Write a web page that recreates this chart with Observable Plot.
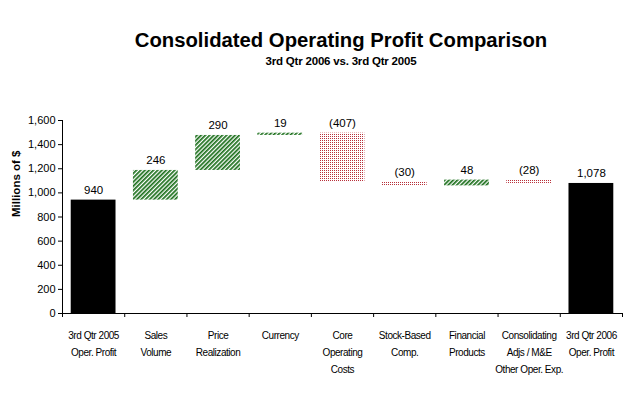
<!DOCTYPE html>
<html>
<head>
<meta charset="utf-8">
<script src="https://cdn.jsdelivr.net/npm/d3@7"></script>
<script src="https://cdn.jsdelivr.net/npm/@observablehq/plot@0.6"></script>
<style>
  html, body { margin: 0; padding: 0; background: #fff; }
  #wrap { position: relative; width: 623px; height: 412px; overflow: hidden; font-family: "Liberation Sans", Arial, sans-serif; }
  #title { position: absolute; left: 0; top: 29px; width: 682px; text-align: center; font-weight: bold; font-size: 20.3px; line-height: 22px; color: #000; }
  #subtitle { position: absolute; left: 0; top: 54px; width: 682px; text-align: center; font-weight: bold; font-size: 11.5px; line-height: 14px; color: #000; letter-spacing: -0.2px; }
  #chart { position: absolute; left: 0; top: 0; }
  g[font-family*="xlabel"] { letter-spacing: -0.45px; }
</style>
</head>
<body>
<div id="wrap">
  <div id="chart"></div>
  <div id="title">Consolidated Operating Profit Comparison</div>
  <div id="subtitle">3rd Qtr 2006 vs. 3rd Qtr 2005</div>
</div>
<script>
const categories = [
  "3rd Qtr 2005\nOper. Profit",
  "Sales\nVolume",
  "Price\nRealization",
  "Currency",
  "Core\nOperating\nCosts",
  "Stock-Based\nComp.",
  "Financial\nProducts",
  "Consolidating\nAdjs / M&E\nOther Oper. Exp.",
  "3rd Qtr 2006\nOper. Profit"
];
const changes = [940, 246, 290, 19, -407, -30, 48, -28, 1078];
const kinds = ["total", "change", "change", "change", "change", "change", "change", "change", "total"];
const valueLabels = ["940", "246", "290", "19", "(407)", "(30)", "48", "(28)", "1,078"];
const yTicks = [0, 200, 400, 600, 800, 1000, 1200, 1400, 1600];

// build waterfall table
let running = 0;
const data = categories.map((c, i) => {
  let lo, hi, type;
  if (kinds[i] === "total") {
    lo = 0; hi = changes[i]; running = changes[i]; type = "total";
  } else {
    const start = running;
    running = start + changes[i];
    lo = Math.min(start, running); hi = Math.max(start, running);
    type = changes[i] >= 0 ? "up" : "down";
  }
  return {i, label: c, lo, hi, type, text: valueLabels[i]};
});

const font = "Liberation Sans, Arial, sans-serif";
const narrow = "'Liberation Sans', Arial, xlabel, sans-serif";

const chart = Plot.plot({
  width: 623,
  height: 412,
  marginLeft: 62,
  marginRight: 1,
  marginTop: 120,
  marginBottom: 99,
  style: {fontFamily: font, fontSize: "11px", color: "#000", background: "transparent"},
  x: {type: "linear", domain: [0, categories.length], axis: null},
  y: {domain: [0, 1600], axis: null},
  marks: [
    Plot.rectY(data.filter(d => d.type === "total"), {x1: d => d.i + 0.14, x2: d => d.i + 0.86, y1: "lo", y2: "hi", fill: "#000"}),
    Plot.rectY(data.filter(d => d.type === "up"), {x1: d => d.i + 0.14, x2: d => d.i + 0.86, y1: "lo", y2: "hi", fill: "url(#gstripe)"}),
    Plot.rectY(data.filter(d => d.type === "down"), {x1: d => d.i + 0.14, x2: d => d.i + 0.86, y1: "lo", y2: "hi", fill: "url(#rdots)"}),
    Plot.text(data, {x: d => d.i + 0.5, y: "hi", text: "text", lineAnchor: "bottom", dy: -6, fontSize: 11.5, fill: "#000"}),
    Plot.axisY({ticks: yTicks, tickFormat: d3.format(","), tickSize: 4, tickPadding: 3, fontSize: 11, label: null}),
    Plot.ruleX([0], {stroke: "#000"}),
    Plot.ruleY([0], {stroke: "#000"}),
    Plot.axisX({ticks: d3.range(categories.length + 1), tickFormat: () => "", tickSize: 4, label: null}),
    Plot.text(data, {x: d => d.i + 0.5, y: 0, text: "label", lineAnchor: "top", dy: 13, lineHeight: 1.7, fontSize: 10, fontFamily: narrow, fill: "#000"}),
    Plot.text(["Millions of $"], {frameAnchor: "left", dx: -46, text: d => d, rotate: -90, fontWeight: "bold", fontSize: 11.5, fill: "#000"})
  ]
});

const ns = "http://www.w3.org/2000/svg";
const defs = document.createElementNS(ns, "defs");
defs.innerHTML = `
  <pattern id="gstripe" patternUnits="userSpaceOnUse" width="3" height="3" patternTransform="rotate(45)">
    <rect width="3" height="3" fill="#ffffff"/>
    <rect width="1.7" height="3" fill="#1a6e1a"/>
  </pattern>
  <pattern id="rdots" patternUnits="userSpaceOnUse" width="2" height="2">
    <rect width="2" height="2" fill="#ffffff"/>
    <rect width="1" height="1" fill="#b8303a"/>
  </pattern>`;
chart.insertBefore(defs, chart.firstChild);
document.getElementById("chart").appendChild(chart);
</script>
</body>
</html>
